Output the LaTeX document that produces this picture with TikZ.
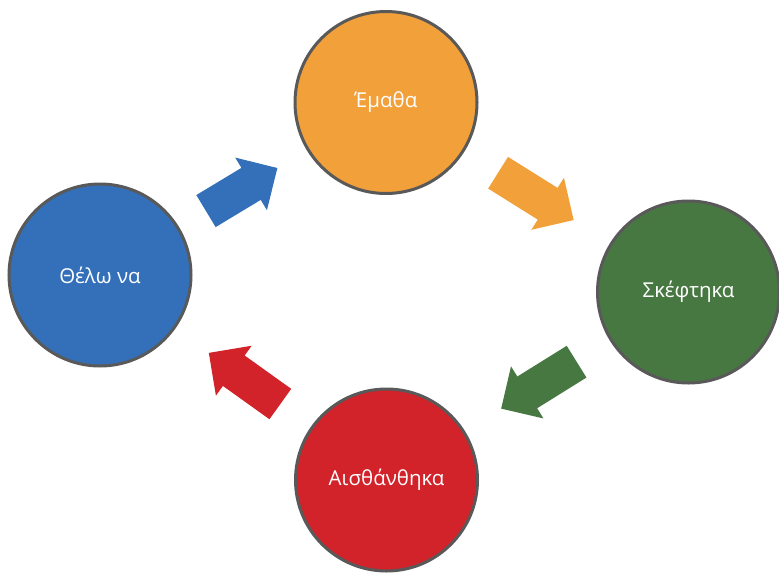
\documentclass[tikz,border=0pt]{standalone}
\usepackage{fontspec}
\setmainfont{Open Sans}
\usetikzlibrary{shapes.arrows,calc}
\definecolor{wantblue}{HTML}{3370B9}
\definecolor{learnorange}{HTML}{F2A03A}
\definecolor{thinkgreen}{HTML}{487842}
\definecolor{feelred}{HTML}{D2222A}
\definecolor{rimgray}{HTML}{595959}
\def\StageR{91}
\def\FromT{0.37}
\def\ToT{0.62}

\tikzset{
  stage/.style={circle, draw=rimgray, line width=3pt, minimum size=2*\StageR pt,
    inner sep=0pt, text=white, font=\fontsize{20.5}{24}\selectfont},
  flow/.style={single arrow, draw=none, inner xsep=0pt, inner ysep=18.5pt,
    single arrow head extend=12pt, anchor=tail}
}

% block arrow on the line between two stages: name, from, to, colour
\newcommand\flowarrow[4]{%
  \path let \p1=($(#2)!\FromT!(#3)$), \p2=($(#2)!\ToT!(#3)$),
    \n1={atan2(\y2-\y1,\x2-\x1)}, \n2={veclen(\x2-\x1,\y2-\y1)} in
    node[flow, fill=#4, rotate=\n1, minimum height=\n2] (#1) at (\p1) {};}

\begin{document}
\begin{tikzpicture}[x=1pt, y=-1pt]
\useasboundingbox (0,0) rectangle (779,573);

\node[stage, fill=wantblue] (thelo) at (100, 275) {Θέλω να};
\node[stage, fill=learnorange] (ematha) at (386, 102.5) {Έμαθα};
\node[stage, fill=thinkgreen] (skeftika) at (688.5, 292) {Σκέφτηκα};
\node[stage, fill=feelred] (aisthanthika) at (386.5, 480) {Αισθάνθηκα};

\flowarrow{f1}{thelo}{ematha}{wantblue}
\flowarrow{f2}{ematha}{skeftika}{learnorange}
\flowarrow{f3}{skeftika}{aisthanthika}{thinkgreen}
\flowarrow{f4}{aisthanthika}{thelo}{feelred}
\end{tikzpicture}
\end{document}
